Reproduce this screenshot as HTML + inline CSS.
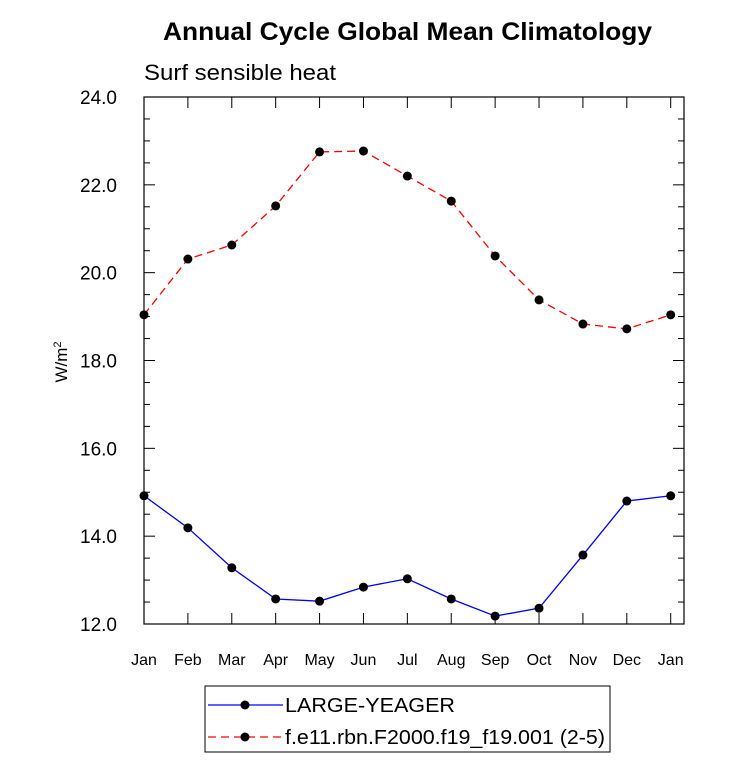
<!DOCTYPE html>
<html><head><meta charset="utf-8"><style>
html,body{margin:0;padding:0;background:#fff;}
svg text{font-family:"Liberation Sans",Arial,sans-serif;}
</style></head><body>
<svg id="chart" width="733" height="777" viewBox="0 0 733 777" xmlns="http://www.w3.org/2000/svg">
<text x="163" y="40" textLength="489" lengthAdjust="spacingAndGlyphs" font-size="25" font-weight="bold">Annual Cycle Global Mean Climatology</text>
<text x="144" y="80" textLength="192" lengthAdjust="spacingAndGlyphs" font-size="22">Surf sensible heat</text>
<text transform="translate(67,362) rotate(-90)" text-anchor="middle" font-size="17">W/m<tspan dy="-6" font-size="11">2</tspan></text>
<g id="axes"></g>
<g id="series"></g>
<g>
<rect x="205" y="686" width="405" height="66" fill="#fff" stroke="#000" stroke-width="1"/>
<line x1="208" y1="705" x2="283" y2="705" stroke="#0000ff" stroke-width="1.3"/>
<circle cx="245" cy="705" r="4.5" fill="#000"/>
<text x="285" y="712" textLength="170" lengthAdjust="spacingAndGlyphs" font-size="20">LARGE-YEAGER</text>
<line x1="208" y1="737" x2="283" y2="737" stroke="#ff0000" stroke-width="1.3" stroke-dasharray="8,5"/>
<circle cx="245" cy="737" r="4.5" fill="#000"/>
<text x="285" y="744" textLength="320" lengthAdjust="spacingAndGlyphs" font-size="20">f.e11.rbn.F2000.f19_f19.001 (2-5)</text>
</g>
</svg>
<script>
const months = ["Jan","Feb","Mar","Apr","May","Jun","Jul","Aug","Sep","Oct","Nov","Dec","Jan"];
const largeYeager = [14.92,14.19,13.28,12.57,12.52,12.84,13.03,12.57,12.18,12.36,13.57,14.80,14.92];
const fe11 = [19.04,20.31,20.63,21.52,22.75,22.77,22.20,21.63,20.38,19.38,18.83,18.72,19.04];
const yTicks = [12,14,16,18,20,22,24];
const yTickLabels = ["12.0","14.0","16.0","18.0","20.0","22.0","24.0"];

const L=144,R=684,T=97,B=624;
const step=(670.7-144)/12;
const xS=i=>L+i*step;
const yS=v=>B-(v-12)/12*(B-T);
const NS="http://www.w3.org/2000/svg";
function mk(tag,attrs,parent){const e=document.createElementNS(NS,tag);for(const k in attrs)e.setAttribute(k,attrs[k]);parent.appendChild(e);return e;}
const ax=document.getElementById('axes');
const fr=mk('rect',{x:L,y:T,width:R-L,height:B-T,fill:'none',stroke:'#000','stroke-width':1.2},ax);


for(let v=12;v<=24.001;v+=0.5){
  const y=yS(v);const major=Math.abs(v-Math.round(v/2)*2)<1e-6;const len=major?11:6;
  mk('line',{x1:L,y1:y,x2:L+len,y2:y,stroke:'#000','stroke-width':1},ax);
  mk('line',{x1:R,y1:y,x2:R-len,y2:y,stroke:'#000','stroke-width':1},ax);
}
yTicks.forEach((v,i)=>{
  const t=mk('text',{x:L-27,y:yS(v)+7,'text-anchor':'end','font-size':19},ax);
  t.textContent=yTickLabels[i];
  
  
});
months.forEach((m,i)=>{
  const x=xS(i);
  mk('line',{x1:x,y1:B,x2:x,y2:B-11,stroke:'#000','stroke-width':1},ax);
  mk('line',{x1:x,y1:T,x2:x,y2:T+11,stroke:'#000','stroke-width':1},ax);
  const t=mk('text',{x:x,y:B+41,'text-anchor':'middle','font-size':16},ax);
  t.textContent=m;
  
  
});
const sg=document.getElementById('series');
function draw(vals,color,dash,name){
  const g=mk('g',{},sg);
  
  
  const p=mk('polyline',{points:vals.map((v,i)=>xS(i)+','+yS(v)).join(' '),fill:'none',stroke:color,'stroke-width':1.3},g);
  if(dash)p.setAttribute('stroke-dasharray',dash);
  vals.forEach((v,i)=>{
    const c=mk('circle',{cx:xS(i),cy:yS(v),r:4.5,fill:'#000'},g);
    
    
  });
}
draw(largeYeager,'#0000ff',null,'series-large-yeager');
draw(fe11,'#ff0000','8,5','series-f-e11');
</script>
</body></html>
